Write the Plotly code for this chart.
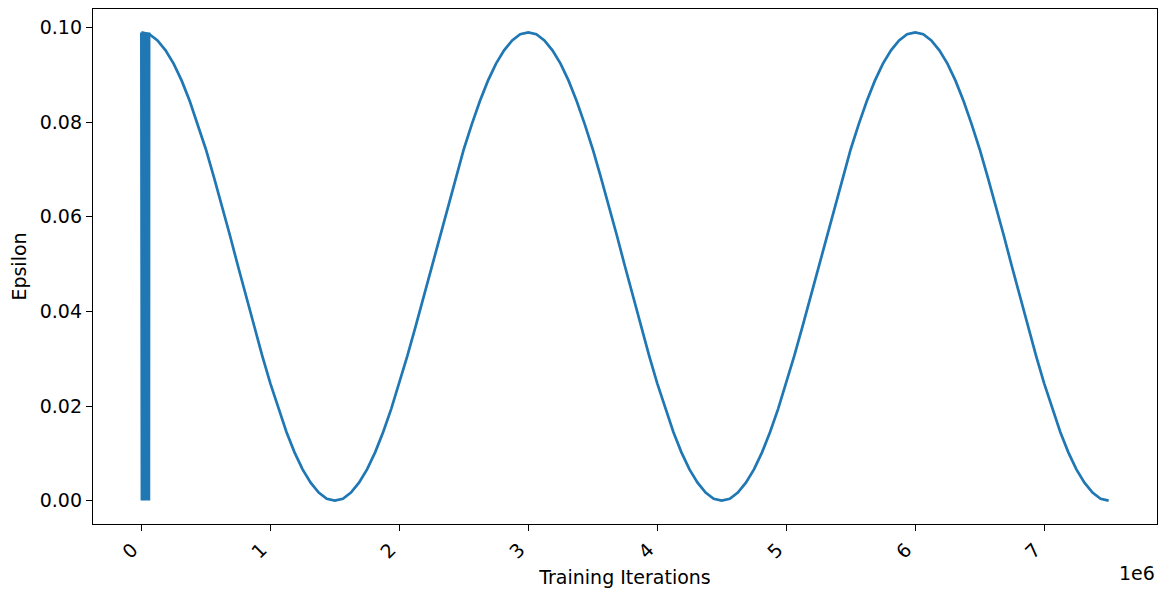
import plotly.graph_objects as go

# Warm-up phase: rapid oscillation between max and min epsilon
warmup_x = [0, 1500, 3000, 4500, 6000, 7500, 9000, 10500, 12000, 13500, 15000,
            16500, 18000, 19500, 21000, 22500, 24000, 25500, 27000, 28500, 30000,
            31500, 33000, 34500, 36000, 37500, 39000, 40500, 42000, 43500, 45000,
            46500, 48000, 49500, 51000, 52500, 54000, 55500, 57000, 58500, 60000]
warmup_y = [0.099, 0.0, 0.099, 0.0, 0.099, 0.0, 0.099, 0.0, 0.099, 0.0, 0.099,
            0.0, 0.099, 0.0, 0.099, 0.0, 0.099, 0.0, 0.099, 0.0, 0.099,
            0.0, 0.099, 0.0, 0.099, 0.0, 0.099, 0.0, 0.099, 0.0, 0.099,
            0.0, 0.099, 0.0, 0.099, 0.0, 0.099, 0.0, 0.099, 0.0, 0.099]

# Main schedule: epsilon read every 62,500 iterations from 0 to 7.5e6
iters = [i * 62500 for i in range(121)]
epsilon = [
    0.0990, 0.0986, 0.0973, 0.0952, 0.0924, 0.0888, 0.0845, 0.0796, 0.0743, 0.0684,
    0.0623, 0.0560, 0.0495, 0.0430, 0.0367, 0.0306, 0.0248, 0.0194, 0.0145, 0.0102,
    0.0066, 0.0038, 0.0017, 0.0004, 0.0000,
    0.0004, 0.0017, 0.0038, 0.0066, 0.0102, 0.0145, 0.0194, 0.0248, 0.0306, 0.0367,
    0.0430, 0.0495, 0.0560, 0.0623, 0.0684, 0.0743, 0.0796, 0.0845, 0.0888, 0.0924,
    0.0952, 0.0973, 0.0986, 0.0990,
    0.0986, 0.0973, 0.0952, 0.0924, 0.0888, 0.0845, 0.0796, 0.0743, 0.0684, 0.0623,
    0.0560, 0.0495, 0.0430, 0.0367, 0.0306, 0.0248, 0.0194, 0.0145, 0.0102, 0.0066,
    0.0038, 0.0017, 0.0004, 0.0000,
    0.0004, 0.0017, 0.0038, 0.0066, 0.0102, 0.0145, 0.0194, 0.0248, 0.0306, 0.0367,
    0.0430, 0.0495, 0.0560, 0.0623, 0.0684, 0.0743, 0.0796, 0.0845, 0.0888, 0.0924,
    0.0952, 0.0973, 0.0986, 0.0990,
    0.0986, 0.0973, 0.0952, 0.0924, 0.0888, 0.0845, 0.0796, 0.0743, 0.0684, 0.0623,
    0.0560, 0.0495, 0.0430, 0.0367, 0.0306, 0.0248, 0.0194, 0.0145, 0.0102, 0.0066,
    0.0038, 0.0017, 0.0004, 0.0000,
]

x_tickvals = [0, 1000000, 2000000, 3000000, 4000000, 5000000, 6000000, 7000000]
x_ticktext = ["0", "1", "2", "3", "4", "5", "6", "7"]
y_tickvals = [0.0, 0.02, 0.04, 0.06, 0.08, 0.10]
y_ticktext = ["0.00", "0.02", "0.04", "0.06", "0.08", "0.10"]

color = "#1f77b4"
font = dict(family="DejaVu Sans", size=19, color="black")

fig = go.Figure()
fig.add_trace(go.Scatter(x=warmup_x, y=warmup_y, mode="lines",
                         line=dict(color=color, width=2.7), showlegend=False))
fig.add_trace(go.Scatter(x=iters, y=epsilon, mode="lines",
                         line=dict(color=color, width=2.7), showlegend=False))

axis_common = dict(showline=True, linecolor="black", linewidth=1.4, mirror=True,
                   ticks="outside", ticklen=6, tickwidth=1.4, tickcolor="black",
                   showgrid=False, zeroline=False, tickfont=font, automargin=False)

fig.update_xaxes(range=[-375000, 7875000], tickvals=x_tickvals, ticktext=x_ticktext,
                 tickangle=-45, ticklabelshift=-9,
                 title=dict(text="Training Iterations", font=font, standoff=9),
                 **axis_common)
fig.update_yaxes(range=[-0.00495, 0.10395], tickvals=y_tickvals, ticktext=y_ticktext,
                 title=dict(text="Epsilon", font=font, standoff=10),
                 **axis_common)

fig.add_annotation(text="1e6", xref="paper", yref="paper", x=1, y=0,
                   xanchor="right", yanchor="middle", yshift=-49,
                   showarrow=False, font=font)

# page body has an 8px margin, so the figure is sized to fit the remaining window
fig.update_layout(width=1162, height=583, plot_bgcolor="white", paper_bgcolor="white",
                  margin=dict(l=85, r=13, t=1, b=67), font=font)

fig.write_html("out.html")
